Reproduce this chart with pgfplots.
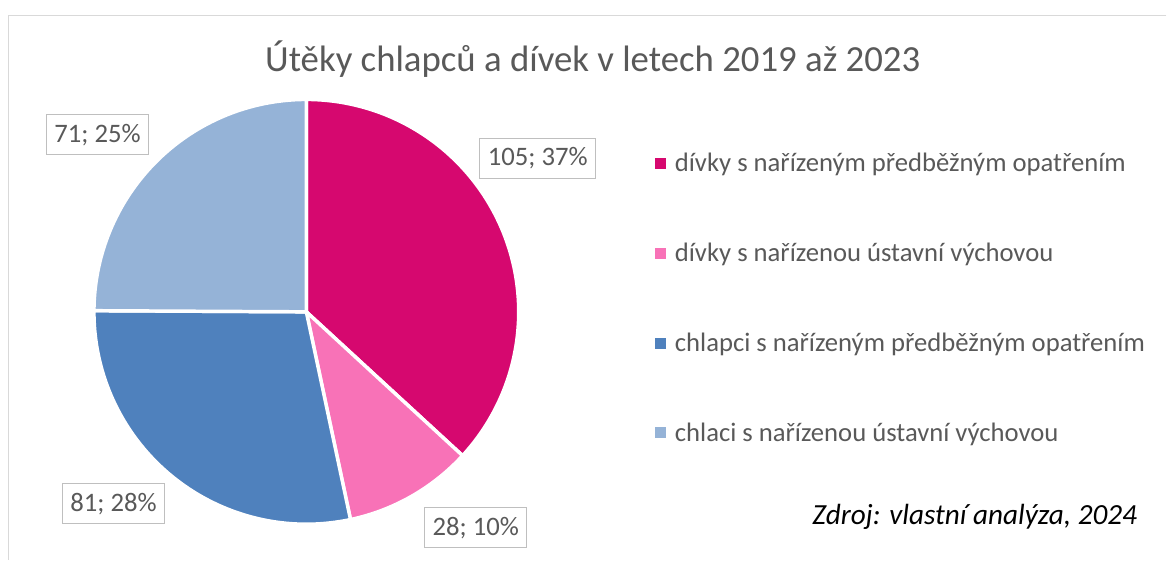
\documentclass[border=0pt]{standalone}
\usepackage{fontspec}
\setmainfont{Carlito}
\usepackage{pgfplots}
\pgfplotsset{compat=1.18}
\definecolor{cA}{HTML}{D6086F}
\definecolor{cB}{HTML}{F872B7}
\definecolor{cC}{HTML}{4F81BD}
\definecolor{cD}{HTML}{95B3D7}
\definecolor{txt}{HTML}{595959}
\definecolor{brd}{HTML}{BFBFBF}
\definecolor{frm}{HTML}{D9D9D9}
\begin{document}
\begin{tikzpicture}
% data: number of runaways 2019--2023
\def\vA{105}\def\vB{28}\def\vC{81}\def\vD{71}
\pgfmathsetmacro{\tot}{\vA+\vB+\vC+\vD}
\pgfmathsetmacro{\aA}{90}
\pgfmathsetmacro{\aB}{90-360*(\vA/\tot)}
\pgfmathsetmacro{\aC}{\aB-360*(\vB/\tot)}
\pgfmathsetmacro{\aD}{\aC-360*(\vC/\tot)}
\pgfmathsetmacro{\aE}{\aD-360*(\vD/\tot)}
\def\cx{306.5}\def\cy{312}\def\rr{212.5}
\begin{axis}[x=0.75pt, y=0.75pt, xmin=0, xmax=1167, ymin=0, ymax=560,
  y dir=reverse, hide axis, enlargelimits=false, clip=false]
\path (axis cs:0,0) rectangle (axis cs:1167,560);
\draw[frm, line width=1pt] (axis cs:1167,15.5) -- (axis cs:8.5,15.5) -- (axis cs:8.5,560);
% slices
\addplot[fill=cA, draw=white, line width=2.6pt, line join=round, domain=\aB:\aA, samples=120, variable=\t]
  ({\cx+\rr*cos(\t)}, {\cy-\rr*sin(\t)}) -- (axis cs:\cx,\cy) -- cycle;
\addplot[fill=cB, draw=white, line width=2.6pt, line join=round, domain=\aC:\aB, samples=40, variable=\t]
  ({\cx+\rr*cos(\t)}, {\cy-\rr*sin(\t)}) -- (axis cs:\cx,\cy) -- cycle;
\addplot[fill=cC, draw=white, line width=2.6pt, line join=round, domain=\aD:\aC, samples=100, variable=\t]
  ({\cx+\rr*cos(\t)}, {\cy-\rr*sin(\t)}) -- (axis cs:\cx,\cy) -- cycle;
\addplot[fill=cD, draw=white, line width=2.6pt, line join=round, domain=\aE:\aD, samples=100, variable=\t]
  ({\cx+\rr*cos(\t)}, {\cy-\rr*sin(\t)}) -- (axis cs:\cx,\cy) -- cycle;
% data labels
\tikzset{lbl/.style={draw=brd, fill=white, text=txt, line width=0.75pt, minimum height=30pt,
  inner xsep=6pt, inner ysep=0pt, font=\fontsize{20}{24}\selectfont}}
\node[lbl] at (axis cs:538,158.5) {105; 37\%};
\node[lbl] at (axis cs:476,528) {28; 10\%};
\node[lbl] at (axis cs:113.5,504) {81; 28\%};
\node[lbl] at (axis cs:97.5,135) {71; 25\%};
% title
\node[anchor=base, text=txt, inner sep=0pt, font=\fontsize{27.6}{32}\selectfont] at (axis cs:593,72)
  {Útěky chlapců a dívek v letech 2019 až 2023};
% legend
\addplot[only marks, mark=square*, mark size=3.75pt, color=cA] coordinates {(660.5,163)};
\addplot[only marks, mark=square*, mark size=3.75pt, color=cB] coordinates {(660.5,253)};
\addplot[only marks, mark=square*, mark size=3.75pt, color=cC] coordinates {(660.5,343)};
\addplot[only marks, mark=square*, mark size=3.75pt, color=cD] coordinates {(660.5,433)};
\tikzset{leg/.style={anchor=base west, text=txt, inner sep=0pt, font=\fontsize{20}{24}\selectfont}}
\node[leg] at (axis cs:675,171.5) {dívky s nařízeným předběžným opatřením};
\node[leg] at (axis cs:675,261.5) {dívky s nařízenou ústavní výchovou};
\node[leg] at (axis cs:675,351.5) {chlapci s nařízeným předběžným opatřením};
\node[leg] at (axis cs:675,441.5) {chlaci s nařízenou ústavní výchovou};
% source
\node[anchor=base east, inner sep=0pt, font=\fontsize{21.9}{26}\selectfont\itshape] at (axis cs:1138,525)
  {Zdroj: vlastní analýza, 2024};
\end{axis}
\end{tikzpicture}
\end{document}
